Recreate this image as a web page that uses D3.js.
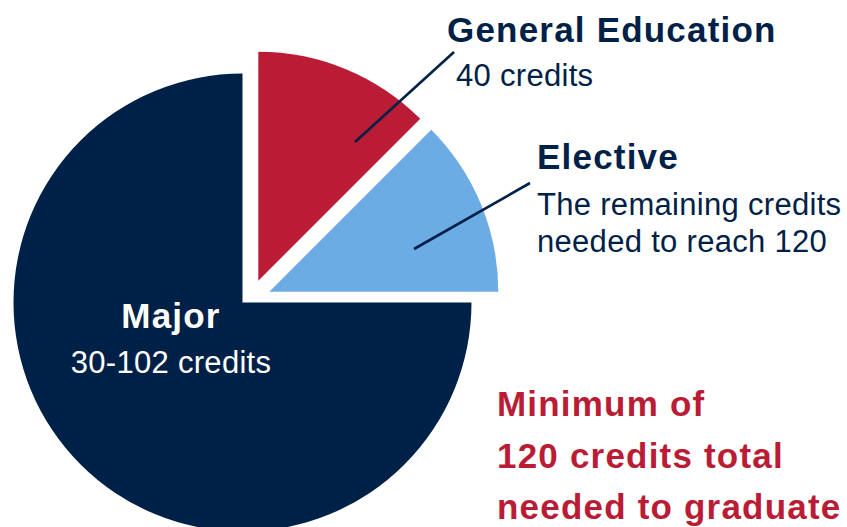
<!DOCTYPE html>
<html>
<head>
<meta charset="utf-8">
<script src="https://cdn.jsdelivr.net/npm/d3@7"></script>
<style>
  body { margin: 0; background: #fff; }
  text { font-family: "Liberation Sans", Arial, sans-serif; }
</style>
</head>
<body>
<div id="chart-area"></div>
<script>
// slices, clockwise from 12 o'clock (share of the circle, %)
var categories = ["General Education", "Elective", "Major"];
var shares = [12.5, 12.5, 75];
var subLabels = [["40 credits"], ["The remaining credits", "needed to reach 120"], ["30-102 credits"]];
var noteLines = ["Minimum of", "120 credits total", "needed to graduate"];

var width = 847, height = 527;
var navy = "#002147", red = "#ba1c36", blue = "#6cace4";

var center = { x: 242.5, y: 302.5 };
var radius = 229;

// how far each slice is pulled out of the pie
var explode = {
	"General Education": [15.8, -21.8],
	"Elective": [26.8, -10.8],
	"Major": [0, 0]
};

var color = d3.scaleOrdinal()
	.domain(categories)
	.range([red, blue, navy]);

var svg = d3.select("#chart-area")
	.append("svg")
		.attr("width", width)
		.attr("height", height);

var pie = d3.pie()
	.sort(null)
	.value(function(d){ return d.share; });

var arc = d3.arc()
	.innerRadius(0)
	.outerRadius(radius);

var data = categories.map(function(c, i){
	return { name: c, share: shares[i], sub: subLabels[i] };
});

var g = svg.append("g")
	.attr("transform", "translate(" + center.x + ", " + center.y + ")");

g.selectAll("path")
	.data(pie(data))
	.enter()
	.append("path")
		.attr("d", arc)
		.attr("fill", function(d){ return color(d.data.name); })
		.attr("transform", function(d){
			var o = explode[d.data.name];
			return "translate(" + o[0] + ", " + o[1] + ")";
		});

// leader lines
var leaders = [[355, 142, 454, 52], [414, 249, 530, 183]];
svg.selectAll(".leader")
	.data(leaders)
	.enter()
	.append("line")
		.attr("class", "leader")
		.attr("x1", function(d){ return d[0]; })
		.attr("y1", function(d){ return d[1]; })
		.attr("x2", function(d){ return d[2]; })
		.attr("y2", function(d){ return d[3]; })
		.attr("stroke", navy)
		.attr("stroke-width", 2.6);

// labels
function label(x, y, str, size, bold, fill, anchor, spacing) {
	svg.append("text")
		.attr("x", x)
		.attr("y", y)
		.attr("font-size", size + "px")
		.attr("font-weight", bold ? "bold" : "normal")
		.attr("fill", fill)
		.attr("text-anchor", anchor || "start")
		.attr("letter-spacing", spacing + "px")
		.text(str);
}

var big = 35, small = 31;

label(447, 42, data[0].name, big, true, navy, "start", 1.2);
label(456, 86, data[0].sub[0], small, false, navy, "start", 0.3);

label(537, 169, data[1].name, big, true, navy, "start", 1.2);
label(537, 215, data[1].sub[0], small, false, navy, "start", 0.3);
label(537, 252, data[1].sub[1], small, false, navy, "start", 0.3);

label(171, 328, data[2].name, big, true, "#fff", "middle", 1.2);
label(171, 373, data[2].sub[0], small, false, "#fff", "middle", 0.3);

noteLines.forEach(function(s, i){
	label(497, 416 + i * 51.5, s, big, true, red, "start", 1.2);
});
</script>
</body>
</html>
